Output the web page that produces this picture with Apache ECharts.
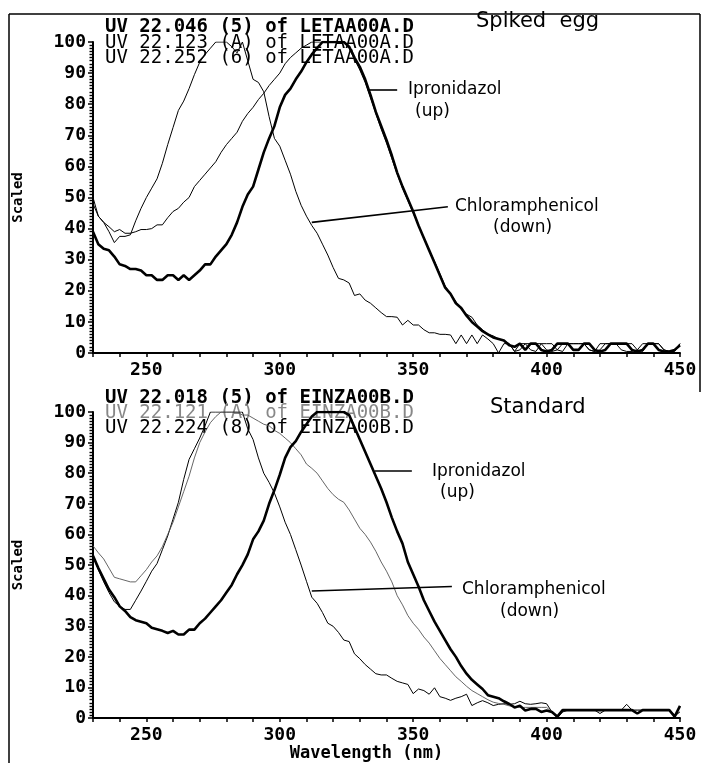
<!DOCTYPE html>
<html>
<head>
<meta charset="utf-8">
<script src="https://cdn.jsdelivr.net/npm/echarts@6/dist/echarts.min.js"></script>
<style>
    html, body { margin: 0; padding: 0; background: #fff; }
    #main { width: 702px; height: 763px; }
</style>
</head>
<body>
<div id="main"></div>
<script type="text/javascript">

    // wavelength grid (nm)
    var wavelength = [
        230,232,234,236,238,240,242,244,246,248,
        250,252,254,256,258,260,262,264,266,268,
        270,272,274,276,278,280,282,284,286,288,
        290,292,294,296,298,300,302,304,306,308,
        310,312,314,316,318,320,322,324,326,328,
        330,332,334,336,338,340,342,344,346,348,
        350,352,354,356,358,360,362,364,366,368,
        370,372,374,376,378,380,382,384,386,388,
        390,392,394,396,398,400,402,404,406,408,
        410,412,414,416,418,420,422,424,426,428,
        430,432,434,436,438,440,442,444,446,448,
        450
    ];

    // Spiked egg - UV 22.123 (thin, max ~280 nm, chloramphenicol)
    var eggChlor = [
        48, 44, 42, 39, 35.5, 37.5, 37.5, 38, 42.5, 46.5,
        50, 53, 56, 61, 67, 72.5, 78, 81, 85, 89.5,
        93.5, 96, 98, 100, 100, 100, 98.5, 96.5, 100, 94,
        88, 87, 84, 76, 69, 66.5, 62, 57.5, 52, 47.5,
        44, 41, 38.5, 35, 31.5, 27.5, 24, 23.5, 22.5, 18.5,
        19, 17, 16, 14.5, 13, 11.7, 11.7, 11.5, 9, 10.5,
        9, 9, 7.5, 6.5, 6.5, 6, 6, 5.8, 3, 5.8,
        3, 5.8, 3, 5.8, 4.5, 3, 0, 3, 3, 0.5,
        3, 3, 1, 0.5, 3, 3, 3, 1, 0.5, 3,
        3, 3, 3, 1, 0.5, 3, 3, 3, 3, 3,
        3, 3, 1, 0.5, 3, 3, 3, 1, 0.5, 0.5,
        3
    ];
    // Spiked egg - UV 22.252 (thin, broad rise)
    var eggMid = [
        50, 44, 42, 40.6, 39, 39.7, 38.5, 38.5, 39, 39.7,
        39.7, 40, 41.2, 41.2, 43.5, 45.5, 46.5, 48.5, 50, 53.5,
        55.5, 57.5, 59.5, 61.5, 64.5, 67, 69, 71, 74.5, 77,
        79, 81.5, 83.5, 86, 88, 90, 93, 95, 96.5, 98,
        99, 100, 100, 100, 100, 100, 100, 100, 98, 94.5,
        91, 87, 82, 77, 72, 67.5, 62.5, 57.5, 53, 49,
        45, 41, 37, 33, 29.5, 25.5, 21.5, 19, 16.5, 14,
        12.5, 11.5, 9, 7.5, 6, 5.5, 4.5, 4, 3, 0.5,
        1, 3, 3, 3, 3, 1, 0.5, 1, 3, 3,
        3, 3, 3, 1, 0.5, 1, 3, 3, 3, 1,
        0.5, 0.5, 1, 3, 3, 3, 3, 1, 0.5, 1,
        3
    ];
    // Spiked egg - UV 22.046 (thick, max ~320 nm, ipronidazol)
    var eggIpro = [
        39, 35, 33.5, 33, 31, 28.5, 28, 27, 27, 26.5,
        25, 25, 23.5, 23.5, 25, 25, 23.5, 25, 23.5, 25,
        26.5, 28.5, 28.5, 31, 33, 35, 38, 42, 47, 51,
        53.5, 59, 64.5, 69, 73, 79, 83, 85, 88, 90.5,
        93.5, 96, 98, 100, 100, 100, 100, 100, 98.5, 95,
        92, 88, 83, 77.5, 73, 68.5, 63.5, 58, 53.5, 49.5,
        45.5, 41, 37, 33, 29, 25, 21, 19, 16, 14.5,
        12, 10, 8.5, 7, 6, 5, 4.5, 4, 2.5, 2,
        3, 1, 3, 3, 1, 0.5, 1, 3, 3, 3,
        1, 1, 3, 3, 1, 0.5, 1, 3, 3, 3,
        3, 1, 0.5, 1, 3, 3, 1, 0.5, 0.5, 1,
        2.5
    ];

    // Standard - UV 22.224 (thin, flat top ~280 nm, chloramphenicol)
    var stdChlor = [
        53, 48.5, 44.5, 41, 38, 36.5, 35.5, 35.5, 38.5, 41.5,
        44.7, 48, 50.5, 55, 59.5, 65, 70.5, 78, 84.5, 88,
        91.5, 95.5, 100, 100, 100, 100, 100, 100, 100, 94.5,
        91, 85, 80, 77, 73.5, 69, 64, 60, 55, 50,
        44.7, 39.5, 37.5, 34.5, 31, 30, 28, 25.5, 25, 21,
        19.4, 17.5, 16, 14.5, 14.1, 14.1, 13, 12, 11.5, 11,
        8, 9.5, 9, 7.8, 9.9, 7, 6.5, 5.8, 6.5, 7,
        7.8, 4.1, 5, 5.7, 5, 4.1, 4.5, 4.7, 4.5, 4.7,
        5.5, 4.7, 4.5, 4.7, 5, 4.7, 2, 0, 2, 2.6,
        2.6, 2.6, 2.6, 2.6, 2.6, 1.5, 2.6, 2.6, 2.6, 2.6,
        4.5, 2.6, 2.6, 2.6, 2.6, 2.6, 2.6, 2.6, 2.6, 1,
        2
    ];
    // Standard - UV 22.121 (faint, slow decay)
    var stdMid = [
        56.3, 54, 52, 49, 46, 45.5, 45, 44.5, 44.5, 46.5,
        48.5, 51, 53, 56, 60, 64, 69, 74, 79, 85,
        90, 93.5, 96.5, 98.5, 100, 100, 100, 100, 99, 99,
        98, 97, 96, 95.5, 94, 93, 91.5, 90, 88, 86,
        83, 81.6, 80, 77.5, 75, 73, 71.5, 70.5, 68, 65,
        62, 60, 57.5, 54.5, 51, 48, 44.5, 40, 37, 33.5,
        31, 29, 26.5, 24.5, 22, 19.5, 17.5, 15.5, 13.5, 12,
        10.4, 9, 8, 7, 6, 5.2, 4.8, 4.5, 4, 3.8,
        3.5, 3.5, 3.5, 3.5, 3.5, 3.5, 2, 0.5, 2.6, 2.6,
        2.6, 2.6, 2.6, 2.6, 2.6, 2.6, 2.6, 2.6, 2.6, 2.6,
        2.6, 2.6, 2.6, 2.6, 2.6, 2.6, 2.6, 2.6, 2.6, 0.5,
        2
    ];
    // Standard - UV 22.018 (thick, max ~320 nm, ipronidazol)
    var stdIpro = [
        53, 49, 45.5, 42, 39.5, 36.5, 35, 33, 32, 31.5,
        31, 29.5, 29, 28.5, 27.8, 28.5, 27.3, 27.3, 28.9, 28.9,
        31, 32.5, 34.5, 36.5, 38.5, 41, 43.5, 47, 50, 53.5,
        58.4, 61, 64.5, 70, 74.5, 79.5, 85, 88.5, 90.5, 93.5,
        96, 98.5, 100, 100, 100, 100, 100, 100, 99, 95,
        91, 87, 83, 79, 75, 70.5, 65.5, 61, 57, 51,
        47, 43, 38.5, 35, 31.5, 28.5, 25.5, 22.5, 20, 17,
        14.5, 12.5, 11, 9.5, 7.5, 7, 6.5, 5.5, 4.6, 3.5,
        4, 2.5, 3, 3, 2, 2.5, 2, 0.5, 2.6, 2.6,
        2.6, 2.6, 2.6, 2.6, 2.6, 2.6, 2.6, 2.6, 2.6, 2.6,
        2.6, 2.6, 1.5, 2.6, 2.6, 2.6, 2.6, 2.6, 2.6, 0.5,
        4
    ];

    // labelled x ticks
    var xLabels = [250, 300, 350, 400, 450];

    // leader lines of the annotations, [wavelength, scaled]
    var eggIproPointer = [[333, 84.6], [344, 84.6]];
    var eggChlorPointer = [[312, 42], [363, 47]];
    var stdIproPointer = [[335.5, 80.7], [349.5, 80.7]];
    var stdChlorPointer = [[312, 41.5], [364.5, 43]];

    var MONO = "'DejaVu Sans Mono', monospace";
    var SANS = "'DejaVu Sans', sans-serif";

    function pairs(vals) {
        var out = [];
        for (var i = 0; i < wavelength.length; i++) {
            out.push([wavelength[i], vals[i]]);
        }
        return out;
    }

    function pointer(p) {
        return {
            symbol: ['none', 'none'],
            silent: true,
            animation: false,
            lineStyle: {color: '#000', width: 1.6, type: 'solid'},
            label: {show: false},
            data: [[{coord: p[0]}, {coord: p[1]}]]
        };
    }

    function xAxisFor(idx, withName) {
        return {
            type: 'value',
            gridIndex: idx,
            min: 230,
            max: 450,
            interval: 10,
            axisLine: {show: true, onZero: false, lineStyle: {color: '#000', width: 2}},
            axisTick: {show: true, length: 4, lineStyle: {color: '#000', width: 1.5}},
            axisLabel: {
                margin: 8,
                color: '#000',
                fontFamily: MONO,
                fontWeight: 'bold',
                fontSize: 18,
                formatter: function (v) {
                    return xLabels.indexOf(v) >= 0 ? String(v) : '';
                }
            },
            splitLine: {show: false},
            name: withName ? 'Wavelength (nm)' : '',
            nameLocation: 'middle',
            nameGap: 26,
            nameTextStyle: {color: '#000', fontFamily: MONO, fontWeight: 'bold', fontSize: 17, padding: [0, 40, 0, 0]}
        };
    }

    function yAxisFor(idx) {
        return {
            type: 'value',
            gridIndex: idx,
            min: 0,
            max: 100,
            interval: 10,
            axisLine: {show: true, lineStyle: {color: '#000', width: 2}},
            axisTick: {show: true, length: 5, lineStyle: {color: '#000', width: 1.5}},
            minorTick: {show: true, splitNumber: 10, length: 3.5, lineStyle: {color: '#000', width: 1.4}},
            axisLabel: {
                margin: 7,
                color: '#000',
                fontFamily: MONO,
                fontWeight: 'bold',
                fontSize: 18
            },
            splitLine: {show: false},
            name: 'Scaled',
            nameLocation: 'middle',
            nameRotate: 90,
            nameGap: 68,
            nameTextStyle: {color: '#000', fontFamily: MONO, fontWeight: 'bold', fontSize: 14}
        };
    }

    function line(name, vals, xi, width, color, mark) {
        var s = {
            name: name,
            type: 'line',
            xAxisIndex: xi,
            yAxisIndex: xi,
            data: pairs(vals),
            showSymbol: false,
            symbol: 'none',
            lineStyle: {color: color, width: width},
            z: width > 2 ? 3 : 2
        };
        if (mark) s.markLine = mark;
        return s;
    }

    function txt(text, x, y, font, fill) {
        return {
            type: 'text',
            x: x,
            y: y,
            silent: true,
            style: {
                text: text,
                font: font,
                fill: fill || '#000',
                textAlign: 'left',
                textVerticalAlign: 'middle',
                align: 'left',
                verticalAlign: 'middle'
            }
        };
    }

    function seg(x1, y1, x2, y2) {
        return {
            type: 'line',
            silent: true,
            shape: {x1: x1, y1: y1, x2: x2, y2: y2},
            style: {stroke: '#000', lineWidth: 1.5}
        };
    }

    var myChart = echarts.init(document.getElementById('main'), null, {renderer: 'canvas'});

    var option = {
        animation: false,
        backgroundColor: '#fff',
        grid: [
            {left: 93, top: 42, width: 587, height: 311},
            {left: 93, top: 412, width: 587, height: 316}
        ],
        xAxis: [xAxisFor(0, false), xAxisFor(1, true)],
        yAxis: [yAxisFor(0), yAxisFor(1)],
        series: [
            line('UV 22.123', eggChlor, 0, 1, '#000', pointer(eggChlorPointer)),
            line('UV 22.252', eggMid, 0, 1, '#000'),
            line('UV 22.046', eggIpro, 0, 2.6, '#000', pointer(eggIproPointer)),
            line('UV 22.224', stdChlor, 1, 1, '#000', pointer(stdChlorPointer)),
            line('UV 22.121', stdMid, 1, 0.9, '#555'),
            line('UV 22.018', stdIpro, 1, 2.6, '#000', pointer(stdIproPointer))
        ],
        graphic: [
            // page frame
            seg(9, 14, 700, 14),
            seg(9, 14, 9, 763),
            seg(700, 14, 700, 392),

            // Spiked egg header
            txt('UV 22.046 (5) of LETAA00A.D', 105, 27, 'bold 19px ' + MONO),
            txt('UV 22.123 (A) of LETAA00A.D', 105, 43, '19px ' + MONO),
            txt('UV 22.252 (6) of LETAA00A.D', 105, 58, '19px ' + MONO),
            txt('Spiked  egg', 476, 22, '21px ' + SANS),

            txt('Ipronidazol', 408, 90, '17px ' + SANS),
            txt('(up)', 415, 112, '17px ' + SANS),
            txt('Chloramphenicol', 455, 207, '17px ' + SANS),
            txt('(down)', 493, 228, '17px ' + SANS),

            // Standard header
            txt('UV 22.018 (5) of EINZA00B.D', 105, 398, 'bold 19px ' + MONO),
            txt('UV 22.121 (A) of EINZA00B.D', 105, 413, '19px ' + MONO, '#888'),
            txt('UV 22.224 (8) of EINZA00B.D', 105, 428, '19px ' + MONO),
            txt('Standard', 490, 408, '21px ' + SANS),

            txt('Ipronidazol', 432, 472, '17px ' + SANS),
            txt('(up)', 440, 493, '17px ' + SANS),
            txt('Chloramphenicol', 462, 590, '17px ' + SANS),
            txt('(down)', 500, 612, '17px ' + SANS)
        ]
    };

    myChart.setOption(option);

</script>
</body>
</html>
